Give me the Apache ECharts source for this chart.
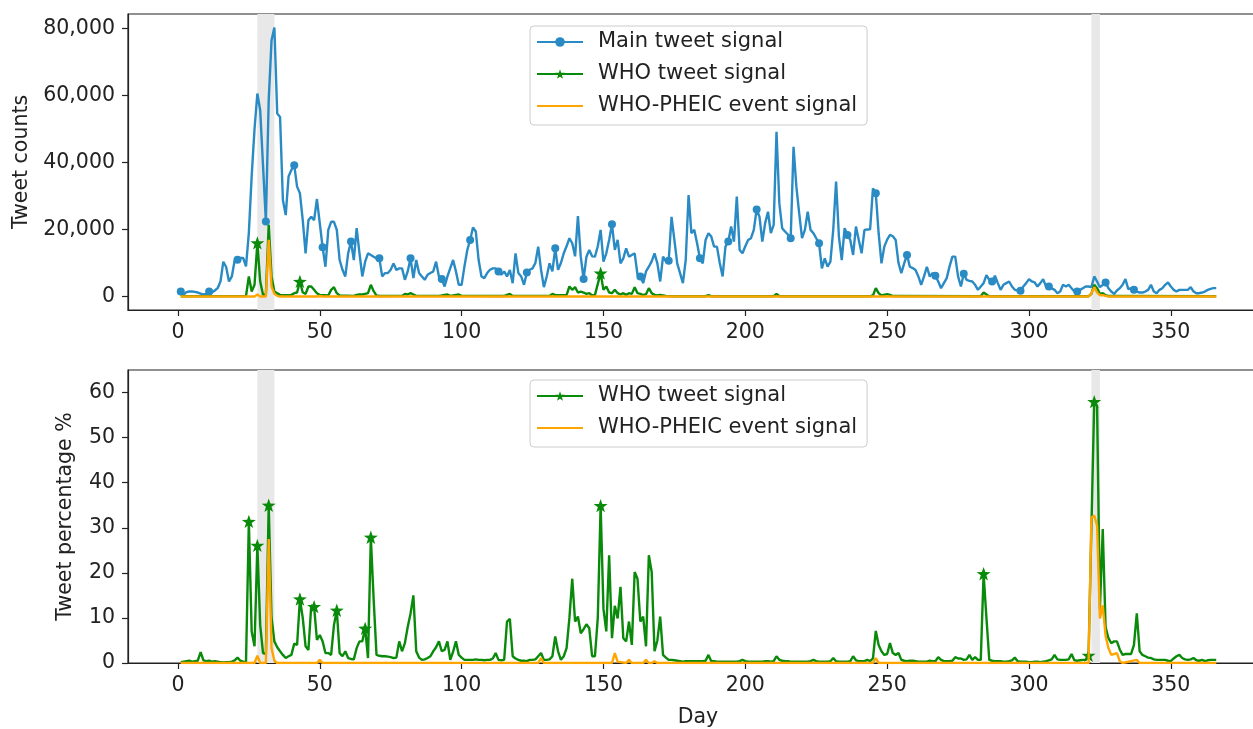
<!DOCTYPE html>
<html>
<head>
<meta charset="utf-8">
<script src="https://cdn.jsdelivr.net/npm/echarts@6/dist/echarts.min.js"></script>
<style>
  html, body { margin: 0; padding: 0; overflow: hidden; background: #fff; }
  #chart { width: 1290px; height: 729px; }
</style>
</head>
<body>
<div id="chart"></div>
<script>
// daily values, day 1 .. 366
const mainCounts = [
  1500, 600, 1300, 1500, 1500, 1400, 1200, 900, 600, 800,
  1500, 1200, 1800, 2500, 4500, 10400, 8800, 4500, 6000, 10800,
  11000, 11500, 11500, 9000, 19000, 36000, 50000, 60600, 55600, 39000,
  22400, 58600, 76500, 80300, 54600, 53600, 28800, 24300, 35800, 37800,
  39200, 32800, 30800, 22800, 12900, 22800, 23800, 22800, 29100, 21900,
  14700, 8900, 19900, 22300, 22300, 19900, 10900, 8000, 6000, 12900,
  16400, 10900, 20400, 12900, 6000, 10400, 12900, 12400, 11900, 11400,
  11400, 6000, 7000, 7000, 8000, 9900, 7900, 8400, 8400, 5000,
  7500, 11400, 5500, 10900, 7000, 6000, 5000, 6500, 7000, 7500,
  10400, 6000, 5200, 3000, 6000, 8500, 10900, 7500, 3500, 3500,
  9000, 13900, 16900, 20600, 19400, 10900, 6000, 5500, 7000, 8000,
  8400, 8400, 7500, 6500, 7500, 6000, 7900, 4000, 12900, 7000,
  6000, 3500, 7150, 8000, 8400, 10000, 14900, 8000, 2800, 6000,
  9900, 7500, 14400, 8000, 10000, 12900, 15000, 17400, 15900, 12000,
  24000, 11900, 5200, 11900, 13900, 12000, 11900, 15000, 19900, 10400,
  12900, 16900, 21600, 13900, 16900, 9900, 11400, 14400, 11900, 12400,
  12900, 6500, 6000, 4000, 7500, 8900, 10500, 12900, 9900, 4500,
  11900, 10500, 10700, 23800, 16900, 9900, 7000, 4000, 10900, 30300,
  18900, 19900, 15900, 11400, 9900, 16900, 18900, 17900, 14900, 14900,
  10000, 6000, 14900, 16400, 20900, 16400, 29800, 13900, 12900, 15000,
  16900, 17400, 19900, 26000, 23800, 16400, 21900, 25300, 18900, 21400,
  49200, 27800, 20400, 19400, 18500, 17400, 44700, 32800, 24800, 17400,
  19900, 25300, 19900, 18900, 17400, 15900, 8400, 11400, 8900, 10400,
  20000, 34300, 17900, 10900, 20400, 18400, 16900, 12400, 20900, 16900,
  12900, 19900, 20000, 20100, 32300, 30800, 18900, 9900, 14900, 17000,
  18400, 18000, 16900, 10000, 7000, 9900, 12400, 8900, 8500, 7900,
  6000, 3500, 6000, 8900, 6000, 7000, 6200, 4500, 2500, 4000,
  5500, 9000, 11900, 11900, 6000, 3000, 6800, 5000, 4700, 4500,
  3500, 2000, 3000, 4000, 6400, 5000, 4500, 6200, 4000, 2000,
  3500, 4000, 4500, 3000, 2000, 1800, 1700, 3000, 4000, 5200,
  4500, 4200, 3000, 4000, 5200, 3000, 3000, 2500, 2000, 1000,
  1500, 3500, 3000, 3500, 2500, 1500, 1500, 2000, 2500, 3000,
  3000, 2800, 6000, 4500, 2800, 3500, 4200, 2500, 1500, 800,
  1800, 2500, 3500, 5200, 2200, 2500, 2000, 1500, 1200, 1200,
  1500, 2000, 3500, 1500, 1000, 2000, 2500, 3500, 4200, 3000,
  2000, 1500, 2000, 2000, 2000, 2000, 2800, 1500, 1000, 1000,
  1200, 1500, 2000, 2300, 2500, 2500
];

const whoPercent = [
  0.2, 0.3, 0.4, 0.5, 0.3, 0.4, 0.5, 2.4, 0.6, 0.4,
  0.5, 0.3, 0.4, 0.3, 0.2, 0.1, 0.2, 0.2, 0.3, 0.6,
  1.2, 0.5, 0.3, 0.2, 31.4, 7.0, 3.7, 26.1, 8.4, 2.2,
  2.0, 35.0, 10.0, 4.8, 3.5, 2.6, 1.8, 1.1, 1.5, 1.8,
  4.3, 4.0, 14.2, 10.0, 3.7, 2.9, 12.8, 12.5, 5.1, 6.2,
  4.8, 2.2, 2.2, 1.8, 8.4, 11.7, 2.2, 1.5, 2.6, 1.1,
  0.9, 0.8, 3.3, 4.8, 4.8, 7.7, 1.1, 27.9, 14.0, 1.8,
  1.6, 1.5, 1.5, 1.4, 1.3, 1.1, 1.2, 4.8, 2.6, 4.4,
  8.0, 11.0, 15.0, 2.6, 1.2, 0.7, 0.8, 1.1, 1.5, 2.6,
  3.5, 4.8, 2.6, 2.9, 4.8, 0.7, 2.5, 4.8, 1.8, 1.2,
  0.7, 0.7, 0.7, 0.7, 0.8, 0.7, 0.7, 0.6, 0.7, 0.7,
  1.0, 2.2, 0.7, 0.6, 0.7, 9.2, 9.8, 1.5, 1.0, 0.7,
  0.5, 0.5, 0.4, 0.7, 0.7, 0.8, 1.5, 2.2, 0.7, 0.7,
  0.8, 1.5, 5.9, 2.6, 0.7, 1.5, 3.3, 10.0, 18.7, 9.2,
  10.3, 6.6, 7.5, 8.6, 7.7, 1.5, 1.5, 10.0, 34.9, 12.0,
  7.0, 23.9, 5.5, 12.7, 9.9, 16.9, 5.5, 4.8, 9.2, 4.0,
  20.2, 18.7, 9.2, 10.3, 3.7, 23.9, 20.2, 2.6, 5.0, 10.3,
  1.8, 1.2, 0.7, 0.7, 0.6, 0.5, 0.4, 0.3, 0.4, 0.4,
  0.4, 0.4, 0.4, 0.4, 0.4, 0.5, 1.8, 0.4, 0.4, 0.3,
  0.3, 0.3, 0.3, 0.3, 0.3, 0.3, 0.3, 0.4, 0.7, 0.4,
  0.3, 0.3, 0.3, 0.3, 0.3, 0.3, 0.4, 0.4, 0.3, 0.4,
  1.5, 0.7, 0.5, 0.4, 0.4, 0.3, 0.3, 0.3, 0.3, 0.3,
  0.3, 0.3, 0.4, 0.7, 0.4, 0.3, 0.3, 0.3, 0.3, 0.4,
  1.1, 0.4, 0.3, 0.3, 0.3, 0.3, 0.4, 1.5, 0.6, 0.4,
  0.4, 0.4, 0.7, 0.4, 1.0, 7.1, 4.0, 2.6, 1.8, 2.0,
  4.4, 2.2, 1.8, 2.2, 0.7, 0.5, 0.4, 0.5, 0.5, 0.4,
  0.3, 0.3, 0.3, 0.3, 0.5, 0.4, 0.4, 1.3, 0.7, 0.4,
  0.4, 0.4, 0.5, 1.3, 1.0, 1.0, 0.7, 0.8, 1.8, 0.7,
  1.3, 0.7, 0.7, 19.8, 10.0, 0.7, 0.5, 0.4, 0.4, 0.4,
  0.3, 0.3, 0.4, 0.6, 1.2, 0.4, 0.3, 0.3, 0.3, 0.2,
  0.2, 0.3, 0.3, 0.2, 0.3, 0.4, 0.6, 0.8, 1.8, 0.8,
  0.7, 0.7, 0.7, 0.8, 2.0, 0.6, 0.5, 0.6, 0.7, 0.7,
  1.7, 30.0, 58.0, 57.0, 12.0, 29.7, 8.0, 5.5, 4.4, 4.8,
  4.8, 3.0, 1.8, 2.0, 2.0, 2.0, 4.0, 11.0, 2.6, 1.8,
  1.5, 1.2, 1.1, 0.8, 0.7, 0.7, 0.7, 0.7, 0.5, 0.4,
  1.0, 1.5, 1.8, 1.1, 0.8, 0.7, 0.8, 1.1, 0.6, 0.5,
  0.7, 0.4, 0.6, 0.7, 0.7, 0.7
];

// [day, value] pairs for the low signals
const whoCounts = [
  [1, 100], [24, 150], [25, 6000], [26, 1500], [27, 3500], [28, 16000], [29, 4500], [30, 500],
  [31, 600], [32, 21400], [33, 6000], [34, 1500], [35, 1000], [36, 500], [37, 400], [40, 500],
  [41, 1000], [42, 1200], [43, 4500], [44, 1200], [45, 800], [46, 3000], [47, 3000], [48, 2000],
  [49, 1000], [50, 500], [53, 300], [54, 2000], [55, 2800], [56, 1000], [57, 300], [62, 200],
  [63, 500], [64, 600], [65, 600], [66, 800], [67, 1000], [68, 3500], [69, 1600], [70, 300],
  [71, 150], [79, 200], [80, 800], [81, 600], [82, 1000], [83, 600], [84, 200], [92, 200],
  [93, 300], [95, 600], [96, 200], [99, 600], [100, 200], [115, 150], [116, 500], [117, 800],
  [118, 200], [131, 200], [132, 800], [133, 400], [137, 500], [138, 3000], [139, 2000],
  [140, 2800], [141, 1200], [142, 1500], [143, 1200], [144, 800], [145, 1000], [146, 300],
  [147, 500], [149, 7000], [150, 2000], [151, 3000], [152, 1200], [153, 1000], [154, 2000],
  [155, 1000], [156, 600], [157, 1000], [158, 500], [159, 1000], [160, 800], [161, 2800],
  [162, 1000], [163, 800], [164, 400], [165, 700], [166, 2500], [167, 1000], [168, 500],
  [169, 300], [170, 500], [172, 200], [174, 100], [186, 100], [187, 400], [188, 100],
  [210, 100], [211, 800], [212, 100], [244, 100], [245, 300], [246, 2500], [247, 1000],
  [248, 300], [250, 700], [251, 500], [252, 150], [283, 100], [284, 1200], [285, 600],
  [286, 100], [321, 100], [322, 800], [323, 3500], [324, 2500], [325, 800], [326, 1000],
  [327, 400], [328, 150], [366, 100]
];

const pheicCounts = [
  [1, 0], [27, 0], [28, 600], [29, 0], [31, 0], [32, 16900], [33, 3000], [34, 800], [35, 200],
  [36, 0], [49, 0], [50, 150], [51, 0], [321, 0], [322, 1000], [323, 2800], [324, 1200],
  [325, 400], [326, 400], [327, 200], [328, 0], [366, 0]
];

const pheicPercent = [
  [1, 0], [27, 0], [28, 1.6], [29, 0], [31, 0], [32, 27.5], [33, 3.3], [34, 0.5], [35, 0],
  [49, 0], [50, 0.7], [51, 0], [127, 0], [128, 1.1], [129, 0], [153, 0], [154, 2.2], [155, 0.3],
  [158, 0], [159, 0.7], [160, 0], [164, 0], [165, 0.7], [166, 0], [167, 0], [168, 0.4], [169, 0],
  [245, 0], [246, 1.1], [247, 0], [321, 0], [322, 32.3], [323, 32.7], [324, 30.5], [325, 9.9],
  [326, 12.8], [327, 6], [328, 3.3], [329, 1.8], [330, 2], [331, 2.2], [332, 0.4], [333, 0],
  [338, 0.7], [339, 0], [366, 0]
];

const mainMarkDays = [1, 11, 21, 31, 41, 51, 61, 71, 82, 93, 103, 113, 123, 133, 143, 153, 163,
  173, 184, 194, 204, 216, 226, 236, 246, 257, 267, 277, 287, 297, 307, 317, 327, 337];
const topStarDays = [28, 43, 149];
const bottomStarDays = [25, 28, 32, 43, 48, 56, 66, 68, 149, 284, 321, 323];

const shadedSpans = [[28, 34], [322, 325]];
const dayTicks = [0, 50, 100, 150, 200, 250, 300, 350];
const countTicks = [0, 20000, 40000, 60000, 80000];
const percentTicks = [0, 10, 20, 30, 40, 50, 60];

const names = ['Main tweet signal', 'WHO tweet signal', 'WHO-PHEIC event signal'];
const BLUE = '#2a8bc4', GREEN = '#0a8a0a', ORANGE = '#ffa500', INK = '#222222';
const STAR = 'path://M0,-10L2.351,-3.236L9.511,-3.09L3.804,1.236L5.878,8.09L0,4L-5.878,8.09L-3.804,1.236L-9.511,-3.09L-2.351,-3.236Z';
const FONT = 'DejaVu Sans';
const LW = 2.4;

const daily = arr => arr.map((v, i) => [i + 1, v]);
const sizeOn = (days, s) => {
  const set = new Set(days);
  return v => (set.has(v[0]) ? s : 0);
};

const chart = echarts.init(document.getElementById('chart'));

function xAxisFor(gridIndex, withName) {
  return {
    type: 'value', gridIndex: gridIndex, min: -17.6, max: 384.25,
    name: withName ? 'Day' : '', nameLocation: 'middle', nameGap: 44,
    nameTextStyle: { fontSize: 20.5, color: INK, fontFamily: FONT },
    axisLine: { show: true, onZero: false, lineStyle: { color: INK, width: 1.2 } },
    axisTick: { show: true, length: 6, lineStyle: { color: INK, width: 1.2 }, customValues: dayTicks },
    axisLabel: { color: INK, fontSize: 20.5, fontFamily: FONT, margin: 12, customValues: dayTicks },
    splitLine: { show: false }
  };
}

function yAxisFor(gridIndex, name, gap, lo, hi, ticks, fmt) {
  return {
    type: 'value', gridIndex: gridIndex, min: lo, max: hi,
    name: name, nameLocation: 'middle', nameGap: gap,
    nameTextStyle: { fontSize: 20.5, color: INK, fontFamily: FONT },
    axisLine: { show: true, onZero: false, lineStyle: { color: INK, width: 1.2 } },
    axisTick: { show: true, length: 6, lineStyle: { color: INK, width: 1.2 }, customValues: ticks },
    axisLabel: { color: INK, fontSize: 20.5, fontFamily: FONT, margin: 13, customValues: ticks, formatter: fmt },
    splitLine: { show: false }
  };
}

function shade(idx) {
  return {
    type: 'line', xAxisIndex: idx, yAxisIndex: idx, data: [], z: 1, silent: true,
    markArea: {
      silent: true,
      itemStyle: { color: '#e8e8e8' },
      data: shadedSpans.map(s => [{ xAxis: s[0] }, { xAxis: s[1] }])
    }
  };
}

function legendAt(top, items) {
  return {
    left: 530, top: top, orient: 'vertical',
    itemWidth: 46, itemHeight: 12, itemGap: 10,
    padding: [5, 10, 8, 6],
    backgroundColor: 'rgba(255,255,255,0.8)',
    borderColor: '#cccccc', borderWidth: 1, borderRadius: 4,
    textStyle: { fontSize: 21, color: INK, fontFamily: FONT, lineHeight: 22, padding: [0, 0, 0, 10] },
    data: items
  };
}

const option = {
  animation: false,
  textStyle: { fontFamily: FONT },
  grid: [
    { left: 128, right: 22, top: 14, height: 296, show: true, borderColor: INK, borderWidth: 1.2 },
    { left: 128, right: 22, top: 370, height: 295, show: true, borderColor: INK, borderWidth: 1.2 }
  ],
  xAxis: [xAxisFor(0, false), xAxisFor(1, true)],
  yAxis: [
    yAxisFor(0, 'Tweet counts', 96, -4015, 84315, countTicks, v => v.toLocaleString('en-US')),
    yAxisFor(1, 'Tweet percentage %', 52, 0, 65, percentTicks, v => String(v))
  ],
  legend: [
    legendAt(26, [names[0], names[1], { name: names[2], itemStyle: { opacity: 0 } }]),
    legendAt(380, [names[1], { name: names[2], itemStyle: { opacity: 0 } }])
  ],
  series: [
    shade(0),
    {
      name: names[0], type: 'line', xAxisIndex: 0, yAxisIndex: 0, z: 2,
      data: daily(mainCounts), color: BLUE, lineStyle: { width: LW, color: BLUE },
      symbol: 'circle', symbolSize: sizeOn(mainMarkDays, 8), showAllSymbol: true
    },
    {
      name: names[1], type: 'line', xAxisIndex: 0, yAxisIndex: 0, z: 3,
      data: whoCounts, color: GREEN, lineStyle: { width: LW, color: GREEN },
      symbol: STAR, symbolKeepAspect: true, symbolSize: sizeOn(topStarDays, 14), showAllSymbol: true
    },
    {
      name: names[2], type: 'line', xAxisIndex: 0, yAxisIndex: 0, z: 4,
      data: pheicCounts, color: ORANGE, lineStyle: { width: LW, color: ORANGE }, symbol: 'none'
    },
    shade(1),
    {
      name: names[1], type: 'line', xAxisIndex: 1, yAxisIndex: 1, z: 3,
      data: daily(whoPercent), color: GREEN, lineStyle: { width: LW, color: GREEN },
      symbol: STAR, symbolKeepAspect: true, symbolSize: sizeOn(bottomStarDays, 14), showAllSymbol: true
    },
    {
      name: names[2], type: 'line', xAxisIndex: 1, yAxisIndex: 1, z: 4,
      data: pheicPercent, color: ORANGE, lineStyle: { width: LW, color: ORANGE }, symbol: 'none'
    }
  ]
};

chart.setOption(option);
</script>
</body>
</html>
